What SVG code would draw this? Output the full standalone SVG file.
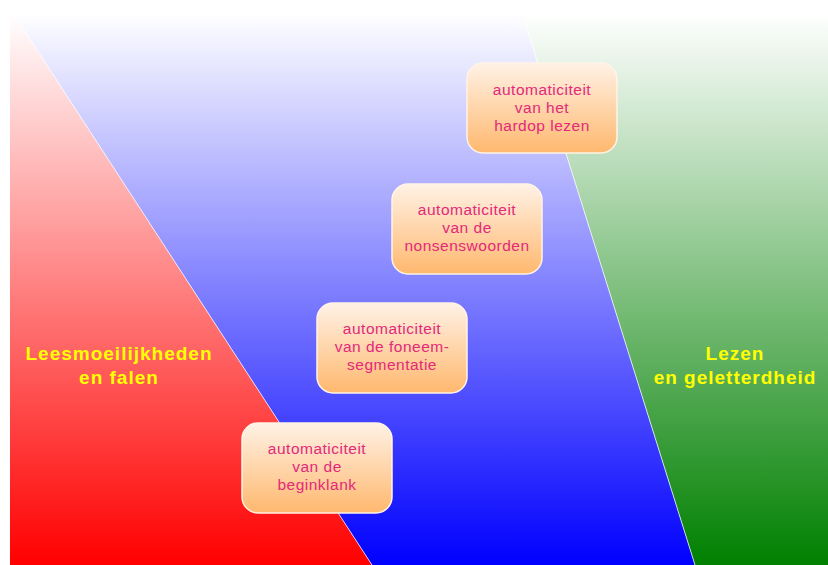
<svg xmlns="http://www.w3.org/2000/svg" width="828" height="565" viewBox="0 0 828 565">
<defs>
<linearGradient id="gRed" x1="0" y1="13" x2="0" y2="565" gradientUnits="userSpaceOnUse">
<stop offset="0" stop-color="#ffffff"/><stop offset="1" stop-color="#ff0000"/>
</linearGradient>
<linearGradient id="gBlue" x1="0" y1="13" x2="0" y2="565" gradientUnits="userSpaceOnUse">
<stop offset="0" stop-color="#ffffff"/><stop offset="1" stop-color="#0000ff"/>
</linearGradient>
<linearGradient id="gGreen" x1="0" y1="13" x2="0" y2="565" gradientUnits="userSpaceOnUse">
<stop offset="0" stop-color="#ffffff"/><stop offset="1" stop-color="#008000"/>
</linearGradient>
<linearGradient id="gBox" x1="0" y1="0" x2="0" y2="1">
<stop offset="0" stop-color="#fff2e6"/><stop offset="1" stop-color="#ffb86e"/>
</linearGradient>
</defs>
<style>
.box{fill:url(#gBox);stroke:#fff4e6;stroke-width:1.5}
.bt{font-family:"Liberation Sans",Arial,sans-serif;font-size:15.5px;letter-spacing:0.5px;fill:#e4287a;text-anchor:middle}
.lbl{font-family:"Liberation Sans",Arial,sans-serif;font-size:19px;letter-spacing:1px;font-weight:bold;fill:#ffff00;text-anchor:middle}
.edge{stroke:#ffffff;stroke-opacity:0.7;stroke-width:1}
</style>
<rect width="828" height="565" fill="#ffffff"/>
<g id="regions">
<polygon points="10,13 13,13 372,565 10,565" fill="url(#gRed)"/>
<polygon points="13,13 522,13 695,565 372,565" fill="url(#gBlue)"/>
<polygon points="522,13 828,13 828,565 695,565" fill="url(#gGreen)"/>
<line class="edge" x1="13" y1="13" x2="372" y2="565"/>
<line class="edge" x1="522" y1="13" x2="695" y2="565"/>
</g>
<g id="label-left">
<text class="lbl" x="119" y="360">Leesmoeilijkheden</text>
<text class="lbl" x="119" y="384">en falen</text>
</g>
<g id="label-right">
<text class="lbl" x="735" y="360">Lezen</text>
<text class="lbl" x="735" y="384">en geletterdheid</text>
</g>
<g id="connectors"/>
<g id="node1">
<rect class="box" x="467" y="63" width="150" height="90" rx="16"/>
<text class="bt" x="542" y="95">automaticiteit</text>
<text class="bt" x="542" y="113">van het</text>
<text class="bt" x="542" y="131">hardop lezen</text>
</g>
<g id="node2">
<rect class="box" x="392" y="184" width="150" height="90" rx="16"/>
<text class="bt" x="467" y="215">automaticiteit</text>
<text class="bt" x="467" y="233">van de</text>
<text class="bt" x="467" y="251">nonsenswoorden</text>
</g>
<g id="node3">
<rect class="box" x="317" y="303" width="150" height="90" rx="16"/>
<text class="bt" x="392" y="334">automaticiteit</text>
<text class="bt" x="392" y="352">van de foneem-</text>
<text class="bt" x="392" y="370">segmentatie</text>
</g>
<g id="node4">
<rect class="box" x="242" y="423" width="150" height="90" rx="16"/>
<text class="bt" x="317" y="454">automaticiteit</text>
<text class="bt" x="317" y="472">van de</text>
<text class="bt" x="317" y="490">beginklank</text>
</g>
</svg>
